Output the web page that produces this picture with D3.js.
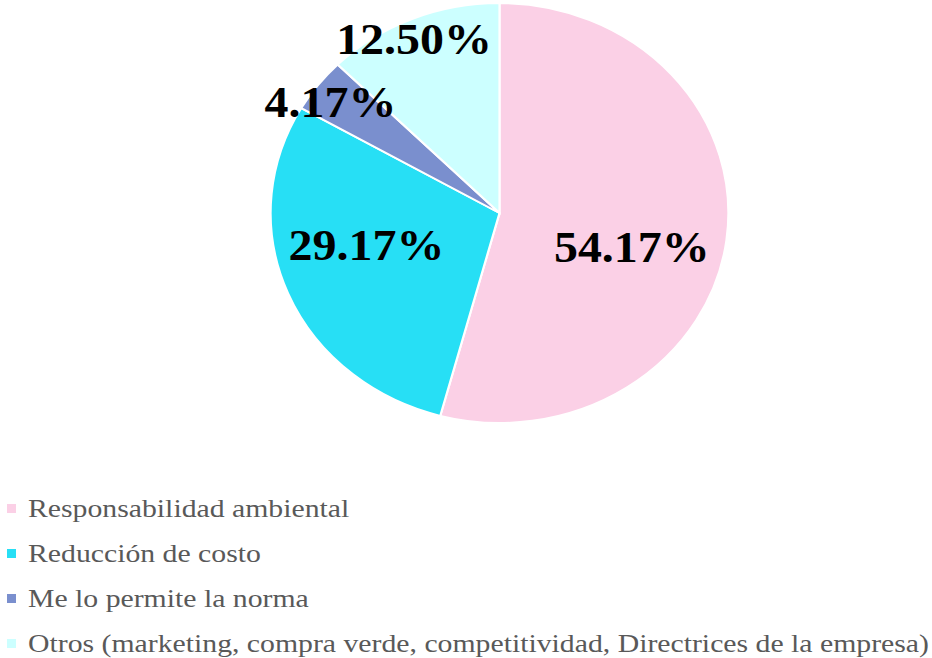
<!DOCTYPE html>
<html>
<head>
<meta charset="utf-8">
<script src="https://cdn.jsdelivr.net/npm/d3@7"></script>
<style>
  body { margin: 0; background: #ffffff; }
  svg { display: block; }
</style>
</head>
<body>
<svg id="chart" width="932" height="658"></svg>
<script>
// data
let categories = [
    "Responsabilidad ambiental",
    "Reducción de costo",
    "Me lo permite la norma",
    "Otros (marketing, compra verde, competitividad, Directrices de la empresa)"
];
let values = [54.17, 29.17, 4.17, 12.50];
let valueLabels = ["54.17%", "29.17%", "4.17%", "12.50%"];

let colors = ["#fbd0e6", "#27dff5", "#7a8fce", "#ccffff"];

let chart = d3.select("#chart");

// the original picture is stretched a bit wider than tall
let stretch = 1.09;
let radius = 210;
let cx = 499.5, cy = 213;

let color = d3.scaleOrdinal()
    .domain(categories)
    .range(colors);

let pie = d3.pie()
    .sort(null)
    .value(function(d) { return d.value; });

let arc = d3.arc()
    .innerRadius(0)
    .outerRadius(radius);

let rows = categories.map(function(c, i) {
    return { name: c, value: values[i], label: valueLabels[i] };
});
let arcs = pie(rows);

let pieGroup = chart.append("g")
    .attr("transform", "translate(" + cx + "," + cy + ") scale(" + stretch + ",1)");

pieGroup.selectAll("path")
    .data(arcs)
    .enter()
    .append("path")
    .attr("d", arc)
    .attr("fill", function(d) { return color(d.data.name); })
    .attr("stroke", "#ffffff")
    .attr("stroke-width", 2);

// label spot: big slices inside (a bit rotated, excel best fit), small ones by the rim
function labelPos(d) {
    let a = (d.startAngle + d.endAngle) / 2;
    let r;
    if (d.value > 20) {
        a += 0.14;
        r = radius * 0.6;
    } else {
        a -= 0.03;
        r = radius * 0.91;
    }
    return [Math.sin(a) * r, -Math.cos(a) * r];
}

pieGroup.selectAll("text")
    .data(arcs)
    .enter()
    .append("text")
    .attr("x", function(d) { return labelPos(d)[0]; })
    .attr("y", function(d) { return labelPos(d)[1]; })
    .attr("dy", "0.35em")
    .attr("text-anchor", "middle")
    .style("font-family", "'Liberation Serif', 'Times New Roman', serif")
    .style("font-weight", "bold")
    .style("font-size", "44px")
    .style("fill", "#000000")
    .text(function(d) { return d.data.label; });

// legend
let legendStretch = 1.19;
let legend = chart.append("g")
    .attr("transform", "scale(" + legendStretch + ",1)");

legend.selectAll("rect")
    .data(categories)
    .enter()
    .append("rect")
    .attr("x", 7 / legendStretch)
    .attr("y", function(d, i) { return 504 + i * 45; })
    .attr("width", 9 / legendStretch)
    .attr("height", 9)
    .attr("fill", function(d) { return color(d); });

legend.selectAll("text")
    .data(categories)
    .enter()
    .append("text")
    .attr("x", 28 / legendStretch)
    .attr("y", function(d, i) { return 508 + i * 45; })
    .attr("dy", "0.35em")
    .style("font-family", "'Liberation Serif', 'Times New Roman', serif")
    .style("font-size", "25px")
    .style("fill", "#595959")
    .text(function(d) { return d; });
</script>
</body>
</html>
